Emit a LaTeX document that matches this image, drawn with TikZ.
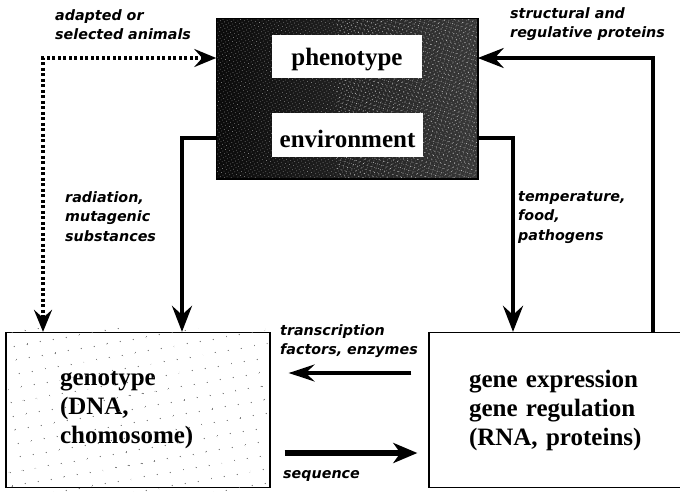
\documentclass[tikz,border=0pt]{standalone}
\usepackage{fontspec}
\setmainfont{Liberation Serif}
\newfontfamily\lblfont{DejaVu Sans}
\usetikzlibrary{arrows.meta,patterns,patterns.meta}
\begin{document}
\begin{tikzpicture}[x=1pt,y=-1pt,
  mainfont/.style={font=\fontsize{25}{29}\selectfont\bfseries},
  smalllbl/.style={font=\lblfont\fontsize{14.3}{19.5}\selectfont\bfseries\itshape, align=left, inner sep=0pt, anchor=north west},
  darkbox/.style={draw=black, line width=1.5pt, inner sep=0pt, minimum width=260pt, minimum height=159pt},
  whitebox/.style={fill=white, mainfont, inner sep=0pt},
  genobox/.style={draw=black, line width=1.3pt, mainfont, align=left, inner ysep=0pt, inner xsep=54pt, text width=156pt, minimum height=155pt},
  genebox/.style={draw=black, line width=1.3pt, fill=white, mainfont, align=left, inner ysep=0pt, inner xsep=40pt, text width=192pt, minimum height=155pt},
  heavy/.style={line width=4pt, -{Stealth[length=26pt,width=20pt,inset=9pt]}},
  dotarrow/.style={line width=3.5pt, dash pattern=on 3pt off 2.5pt, {Stealth[length=22pt,width=18pt,inset=8pt]}-{Stealth[length=22pt,width=18pt,inset=8pt]}},
  thinarrow/.style={line width=3.2pt, -{Stealth[length=26pt,width=17pt,inset=9pt]}},
  thickarrow/.style={line width=5.5pt, -{Stealth[length=24pt,width=20pt,inset=7pt]}}
]
\useasboundingbox (0,0) rectangle (680,491);
\clip (0,0) rectangle (680,491);

% dark outer box with mottled texture
\node[darkbox] (world) at (347,98.5) {};
\shade[left color=black!96, right color=black!78] (world.north west) rectangle (world.south east);
\fill[pattern={Dots[distance=3pt,radius=0.45pt,angle=30]}, pattern color=black!45]
  (world.north west) rectangle (world.south east);
\fill[pattern={Dots[distance=4.5pt,radius=0.6pt,angle=70]}, pattern color=black!30]
  ([xshift=120pt]world.north west) rectangle (world.south east);
\draw[line width=1.5pt] (world.north west) rectangle (world.south east);

\node[whitebox, minimum width=150pt, minimum height=43pt, text height=20pt, text depth=3pt] (pheno) at (347,56.5) {phenotype};
\node[whitebox, minimum width=151pt, minimum height=44pt, text height=26pt, text depth=2pt] (env) at (347.5,135) {environment};

% lower boxes
\node[genobox] (geno) at (138,410) {genotype\\(DNA,\\chomosome)};
\fill[pattern={Dots[distance=13pt,radius=0.6pt,angle=10]}, pattern color=black!60]
  ([shift={(3pt,-3pt)}]geno.south west) rectangle ([shift={(-3pt,3pt)}]geno.north east);
\node[genebox] (gene) at (565,410) {gene expression\\gene regulation\\(RNA, proteins)};

% coordinates for bends
\coordinate (dl) at (43,58);
\coordinate (el) at (182,138);
\coordinate (er) at (513,138);
\coordinate (sr) at (653,58);

% connectors
\draw[dotarrow] (dl -| world.west) -- (dl) -- (dl |- geno.north);
\draw[heavy] (el -| world.west) -- (el) -- (el |- geno.north);
\draw[heavy] (er -| world.east) -- (er) -- (er |- gene.north);
\draw[heavy] (sr |- gene.north) -- (sr) -- (sr -| world.east);
\draw[thinarrow, shorten <=17pt, shorten >=18pt] (gene.west |- 0,373) -- (geno.east |- 0,373);
\draw[thickarrow, shorten <=14pt, shorten >=11pt] (geno.east |- 0,453) -- (gene.west |- 0,453);

% labels
\node[smalllbl] (lad) at (55,9) {adapted or\\selected animals};
\node[smalllbl] (lst) at (510,7) {structural and\\regulative proteins};
\node[smalllbl] (lra) at (65,191) {radiation,\\mutagenic\\substances};
\node[smalllbl] (lte) at (518,191) {temperature,\\food,\\pathogens};
\node[smalllbl] (ltr) at (280,324) {transcription\\factors, enzymes};
\node[smalllbl, anchor=base west] (lse) at (283,478) {sequence};
\end{tikzpicture}
\end{document}
